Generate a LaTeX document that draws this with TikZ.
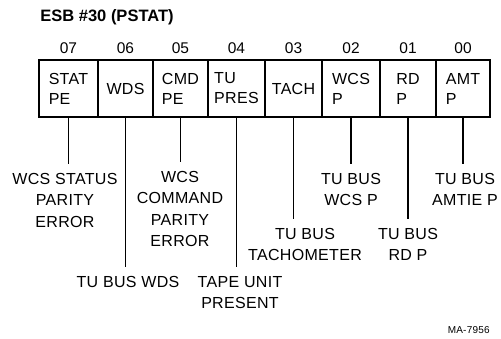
\documentclass[tikz,border=0pt]{standalone}
\usepackage{fontspec}
\setmainfont{Liberation Sans}
\newfontfamily\sigfont[LetterSpace=2]{Liberation Sans}
\usetikzlibrary{positioning}

\begin{document}
\begin{tikzpicture}[x=1pt, y=-1pt, thick,
    cell/.style={draw, rectangle, line width=1.3pt, outer sep=0pt, minimum height=57pt, inner sep=0pt, align=left, font=\sigfont\fontsize{16}{20}\selectfont},
    bitno/.style={inner sep=0pt, font=\fontsize{15.5}{18}\selectfont},
    sig/.style={align=center, inner sep=0pt, outer sep=9pt, anchor=north, font=\sigfont\fontsize{16}{21.5}\selectfont},
    lead/.style={line width=1.5pt}]
    \useasboundingbox (0,0) rectangle (501,338);

    % Title
    \node (title) [anchor=base west, inner sep=0pt, font=\bfseries\fontsize{16.5}{18}\selectfont] at (40,21) {ESB \#30 (PSTAT)};

    % Register cells
    \node (c07) [cell, minimum width=59pt, anchor=north west] at (39,60) {STAT\\PE};
    \node (c06) [cell, minimum width=55pt, right=0pt of c07] {WDS};
    \node (c05) [cell, minimum width=55pt, right=0pt of c06] {CMD\\PE};
    \node (c04) [cell, minimum width=57pt, right=0pt of c05] {TU\\PRES};
    \node (c03) [cell, minimum width=57pt, right=0pt of c04] {TACH};
    \node (c02) [cell, minimum width=58pt, right=0pt of c03] {WCS\\P};
    \node (c01) [cell, minimum width=56pt, right=0pt of c02] {RD\\P};
    \node (c00) [cell, minimum width=54pt, right=0pt of c01] {AMT\\P};
    \draw[line width=2.3pt] (c07.north west) rectangle (c00.south east);

    % Bit numbers
    \node (b07) [bitno, above=6pt of c07] {07};
    \node (b06) [bitno, above=6pt of c06] {06};
    \node (b05) [bitno, above=6pt of c05] {05};
    \node (b04) [bitno, above=6pt of c04] {04};
    \node (b03) [bitno, above=6pt of c03] {03};
    \node (b02) [bitno, above=6pt of c02] {02};
    \node (b01) [bitno, above=6pt of c01] {01};
    \node (b00) [bitno, above=6pt of c00] {00};

    % Signal names
    \node (s07) [sig] at (65,164) {WCS STATUS\\PARITY\\ERROR};
    \node (s06) [sig] at (128,267) {TU BUS WDS};
    \node (s05) [sig] at (180,162) {WCS\\COMMAND\\PARITY\\ERROR};
    \node (s04) [sig] at (240,267) {TAPE UNIT\\PRESENT};
    \node (s03) [sig] at (305,219) {TU BUS\\TACHOMETER};
    \node (s02) [sig] at (351,164) {TU BUS\\WCS P};
    \node (s01) [sig] at (408,219) {TU BUS\\RD P};
    \node (s00) [sig] at (465,164) {TU BUS\\AMTIE P};

    % Leaders
    \draw[lead] (c07.south) -- (c07.south |- s07.north);
    \draw[lead] (c06.south) -- (c06.south |- s06.north);
    \draw[lead] (c05.south) -- (c05.south |- s05.north);
    \draw[lead] (c04.south) -- (c04.south |- s04.north);
    \draw[lead] (c03.south) -- (c03.south |- s03.north);
    \draw[lead] (c02.south) -- (c02.south |- s02.north);
    \draw[lead] (c01.south) -- (c01.south |- s01.north);
    \draw[lead] (c00.south) -- (c00.south |- s00.north);

    \node (fig) [anchor=base east, inner sep=0pt, font=\sigfont\fontsize{10}{12}\selectfont] at (490,333) {MA-7956};
\end{tikzpicture}
\end{document}
